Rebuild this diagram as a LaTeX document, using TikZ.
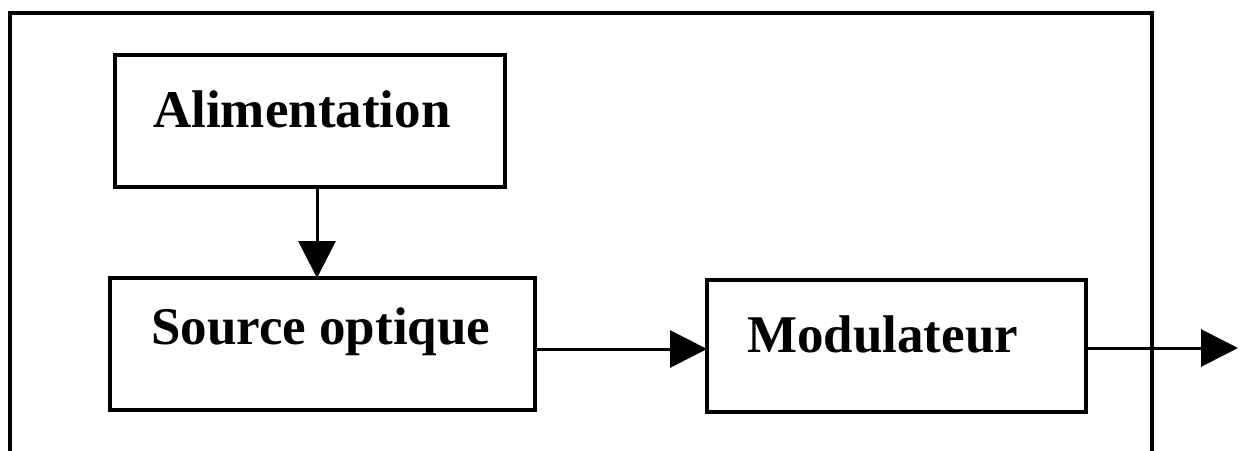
\documentclass[tikz,border=0pt]{standalone}
\usepackage{fontspec}
\setmainfont{Liberation Serif}
\usetikzlibrary{arrows.meta}
\begin{document}
\begin{tikzpicture}[x=1pt,y=-1pt,
  blockbox/.style={draw,line width=4pt,rectangle,minimum height=132pt,inner sep=0pt,outer sep=0pt},
  lbl/.style={anchor=base west,inner sep=0pt,font=\fontsize{53}{60}\selectfont\bfseries},
  arr/.style={line width=3pt,-{Triangle[length=37pt,width=37pt]}}]
\useasboundingbox (0,0) rectangle (1246,450);
% outer frame (open at bottom)
\coordinate (fbl) at (10,452);
\coordinate (ftl) at (10,13);
\coordinate (ftr) at (1152,13);
\coordinate (fbr) at (1152,452);
\draw[line width=4.5pt] (fbl) -- (ftl) -- (ftr) -- (fbr);
% blocks
\node[blockbox,minimum width=390pt] (alim) at (310,121) {};
\node[blockbox,minimum width=425pt] (src) at (322.5,344) {};
\node[blockbox,minimum width=379pt] (mod) at (896.5,346) {};
% labels
\node[lbl] (talim) at (153,127) {Alimentation};
\node[lbl] (tsrc) at (151,344) {Source optique};
\node[lbl] (tmod) at (747,352) {Modulateur};
% connectors
\coordinate (ax) at (317,0);
\coordinate (ay) at (0,349);
\coordinate (oy) at (0,348);
\coordinate (out) at (1238,348);
\draw[arr] (alim.south -| ax) -- (src.north -| ax);
\draw[arr] (src.east |- ay) -- (mod.west |- ay);
\draw[arr] (mod.east |- oy) -- (out);
\end{tikzpicture}
\end{document}
